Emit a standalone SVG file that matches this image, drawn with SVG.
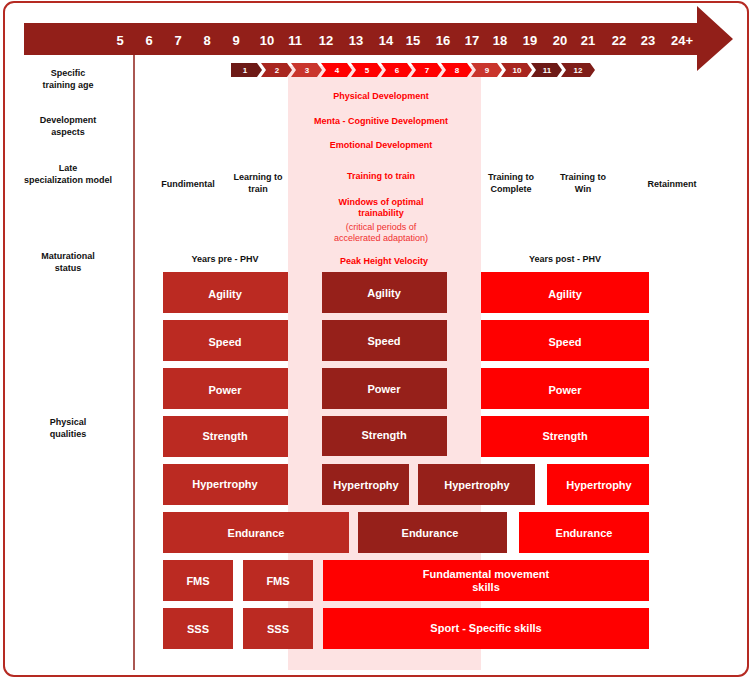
<svg xmlns="http://www.w3.org/2000/svg" width="752" height="681" viewBox="0 0 752 681">
<style>
text{font-family:"Liberation Sans",Arial,sans-serif;font-weight:bold}
.n{fill:#fff;font-size:13px;text-anchor:middle}
.c{fill:#fff;font-size:8px;text-anchor:middle}
.l{fill:#111;font-size:9px;text-anchor:middle}
.r{fill:#ff0000;font-size:9px;text-anchor:middle}
.b{fill:#fff;font-size:11px;text-anchor:middle}
.a{fill:#bb2a22}.m{fill:#96201a}.p{fill:#ff0000}
</style>
<rect x="4" y="2" width="744" height="674" rx="10" fill="#fff" stroke="#b52a22" stroke-width="2"/>
<rect x="288" y="66" width="193" height="604" fill="#fde3e3"/>
<line x1="134" y1="55" x2="134" y2="670" stroke="#8e1f19" stroke-width="1.5"/>
<g id="timeline">
<polygon points="24,23 697,23 697,6 733,39 697,71 697,55 24,55" fill="#921f19"/>
<text class="n" y="45"><tspan x="120">5</tspan><tspan x="149">6</tspan><tspan x="178">7</tspan><tspan x="207">8</tspan><tspan x="236">9</tspan><tspan x="267">10</tspan><tspan x="295">11</tspan><tspan x="326">12</tspan><tspan x="356">13</tspan><tspan x="386">14</tspan><tspan x="413">15</tspan><tspan x="443">16</tspan><tspan x="472">17</tspan><tspan x="500">18</tspan><tspan x="530">19</tspan><tspan x="560">20</tspan><tspan x="588">21</tspan><tspan x="619">22</tspan><tspan x="648">23</tspan><tspan x="682">24+</tspan></text>
</g>
<g id="chevrons">
<polygon points="231,63 257,63 262,70 257,77 231,77" fill="#6d1a16"/>
<polygon points="261,63 287,63 292,70 287,77 261,77 266,70" fill="#a8251e"/>
<polygon points="291,63 317,63 322,70 317,77 291,77 296,70" fill="#c9352c"/>
<polygon points="321,63 347,63 352,70 347,77 321,77 326,70" fill="#ff0000"/>
<polygon points="351,63 377,63 382,70 377,77 351,77 356,70" fill="#ff0000"/>
<polygon points="381,63 407,63 412,70 407,77 381,77 386,70" fill="#ff0000"/>
<polygon points="411,63 437,63 442,70 437,77 411,77 416,70" fill="#ff0000"/>
<polygon points="441,63 467,63 472,70 467,77 441,77 446,70" fill="#ff0000"/>
<polygon points="471,63 497,63 502,70 497,77 471,77 476,70" fill="#c9352c"/>
<polygon points="501,63 527,63 532,70 527,77 501,77 506,70" fill="#a8251e"/>
<polygon points="531,63 557,63 562,70 557,77 531,77 536,70" fill="#6d1a16"/>
<polygon points="561,63 590,63 595,70 590,77 561,77 566,70" fill="#7f1d18"/>
<text class="c" y="73"><tspan x="245">1</tspan><tspan x="277">2</tspan><tspan x="307">3</tspan><tspan x="337">4</tspan><tspan x="367">5</tspan><tspan x="397">6</tspan><tspan x="427">7</tspan><tspan x="457">8</tspan><tspan x="487">9</tspan><tspan x="517">10</tspan><tspan x="547">11</tspan><tspan x="578">12</tspan></text>
</g>
<g id="labels">
<text class="l"><tspan x="68" y="76">Specific</tspan><tspan x="68" y="88">training age</tspan></text>
<text class="l"><tspan x="68" y="123">Development</tspan><tspan x="68" y="135">aspects</tspan></text>
<text class="l"><tspan x="68" y="171">Late</tspan><tspan x="68" y="183">specialization model</tspan></text>
<text class="l"><tspan x="68" y="259">Maturational</tspan><tspan x="68" y="271">status</tspan></text>
<text class="l"><tspan x="68" y="425">Physical</tspan><tspan x="68" y="437">qualities</tspan></text>
<text class="l" x="188" y="187">Fundimental</text>
<text class="l"><tspan x="258" y="180">Learning to</tspan><tspan x="258" y="192">train</tspan></text>
<text class="l"><tspan x="511" y="180">Training to</tspan><tspan x="511" y="192">Complete</tspan></text>
<text class="l"><tspan x="583" y="180">Training to</tspan><tspan x="583" y="192">Win</tspan></text>
<text class="l" x="672" y="187">Retainment</text>
<text class="l" x="225" y="262">Years pre - PHV</text>
<text class="l" x="565" y="262">Years post - PHV</text>
<text class="r" x="381" y="99">Physical Development</text>
<text class="r" x="381" y="124">Menta - Cognitive Development</text>
<text class="r" x="381" y="148">Emotional Development</text>
<text class="r" x="381" y="179">Training to train</text>
<text class="r"><tspan x="381" y="205">Windows of optimal</tspan><tspan x="381" y="216">trainability</tspan></text>
<text class="r" style="font-weight:normal;fill:#f03030"><tspan x="381" y="230">(critical periods of</tspan><tspan x="381" y="241">accelerated adaptation)</tspan></text>
<text class="r" x="384" y="264">Peak Height Velocity</text>
</g>
<g id="boxes">
<g id="agility"><rect class="a" x="163" y="272" width="125" height="41"/><rect class="m" x="322" y="272" width="125" height="41"/><rect class="p" x="481" y="272" width="168" height="41"/>
<text class="b" y="298"><tspan x="225">Agility</tspan><tspan x="384" dy="-1">Agility</tspan><tspan x="565" dy="1">Agility</tspan></text></g>
<g id="speed"><rect class="a" x="163" y="320" width="125" height="41"/><rect class="m" x="322" y="320" width="125" height="41"/><rect class="p" x="481" y="320" width="168" height="41"/>
<text class="b" y="346"><tspan x="225">Speed</tspan><tspan x="384" dy="-1">Speed</tspan><tspan x="565" dy="1">Speed</tspan></text></g>
<g id="power"><rect class="a" x="163" y="368" width="125" height="41"/><rect class="m" x="322" y="368" width="125" height="41"/><rect class="p" x="481" y="368" width="168" height="41"/>
<text class="b" y="394"><tspan x="225">Power</tspan><tspan x="384" dy="-1">Power</tspan><tspan x="565" dy="1">Power</tspan></text></g>
<g id="strength"><rect class="a" x="163" y="416" width="125" height="41"/><rect class="m" x="322" y="416" width="125" height="40"/><rect class="p" x="481" y="416" width="168" height="41"/>
<text class="b" y="440"><tspan x="225">Strength</tspan><tspan x="384" dy="-1">Strength</tspan><tspan x="565" dy="1">Strength</tspan></text></g>
<g id="hypertrophy"><rect class="a" x="163" y="464" width="125" height="41"/><rect class="m" x="322" y="464" width="87" height="41"/><rect class="m" x="418" y="464" width="117" height="41"/><rect class="p" x="547" y="464" width="102" height="41"/>
<text class="b" y="489"><tspan x="225" dy="-1">Hypertrophy</tspan><tspan x="366" dy="1">Hypertrophy</tspan><tspan x="477">Hypertrophy</tspan><tspan x="599">Hypertrophy</tspan></text></g>
<g id="endurance"><rect class="a" x="163" y="512" width="186" height="41"/><rect class="m" x="358" y="512" width="149" height="41"/><rect class="p" x="519" y="512" width="130" height="41"/>
<text class="b" y="537"><tspan x="256">Endurance</tspan><tspan x="430">Endurance</tspan><tspan x="584">Endurance</tspan></text></g>
<g id="fms"><rect class="a" x="163" y="560" width="70" height="41"/><rect class="a" x="243" y="560" width="70" height="41"/><rect class="p" x="323" y="560" width="326" height="41"/>
<text class="b" y="585"><tspan x="198">FMS</tspan><tspan x="278">FMS</tspan></text>
<text class="b"><tspan x="486" y="578">Fundamental movement</tspan><tspan x="486" y="591">skills</tspan></text></g>
<g id="sss"><rect class="a" x="163" y="608" width="70" height="41"/><rect class="a" x="243" y="608" width="70" height="41"/><rect class="p" x="323" y="608" width="326" height="41"/>
<text class="b" y="633"><tspan x="198">SSS</tspan><tspan x="278">SSS</tspan><tspan x="486" dy="-1">Sport - Specific skills</tspan></text></g>
</g>
</svg>
